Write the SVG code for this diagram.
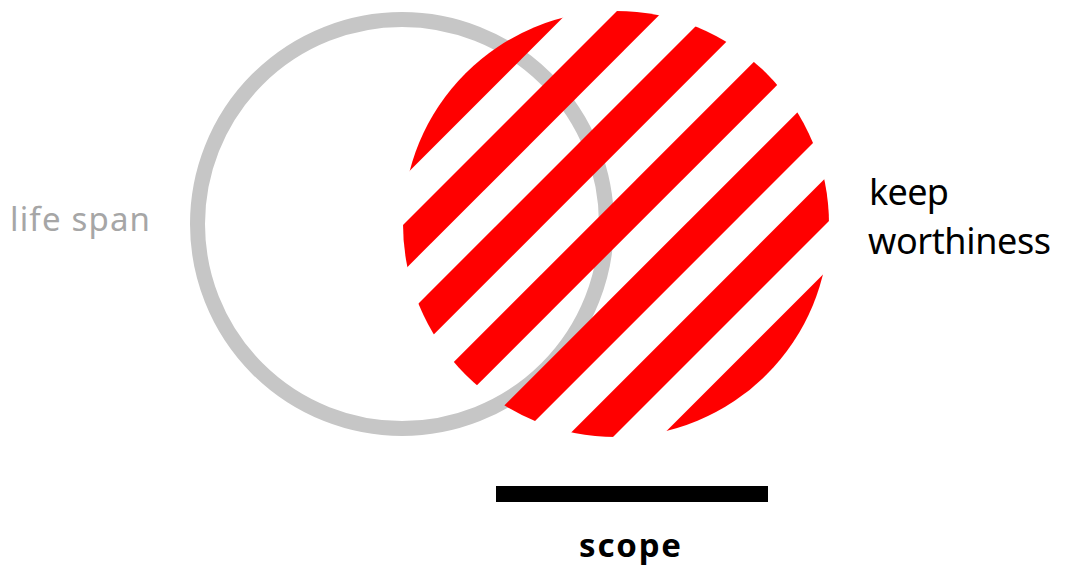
<svg xmlns="http://www.w3.org/2000/svg" width="1065" height="572" viewBox="0 0 1065 572">
  <style>
    .lbl { font-family: "Noto Sans", "Liberation Sans", sans-serif; }
    .stripe { stroke: #ff0000; stroke-width: 32.8; fill: none; }
  </style>
  <defs>
    <clipPath id="redClip">
      <circle cx="616" cy="224" r="213"/>
    </clipPath>
  </defs>
  <rect width="1065" height="572" fill="#ffffff"/>
  <g id="life-span-circle">
    <circle cx="402" cy="224" r="204.5" fill="none" stroke="#c6c6c6" stroke-width="15"/>
  </g>
  <g id="keep-worthiness-circle" clip-path="url(#redClip)">
    <line class="stripe" x1="557.3" y1="0" x2="-42.7" y2="600"/>
    <line class="stripe" x1="651.2" y1="0" x2="51.2" y2="600"/>
    <line class="stripe" x1="745.1" y1="0" x2="145.1" y2="600"/>
    <line class="stripe" x1="839" y1="0" x2="239" y2="600"/>
    <line class="stripe" x1="932.9" y1="0" x2="332.9" y2="600"/>
    <line class="stripe" x1="1026.8" y1="0" x2="426.8" y2="600"/>
    <line class="stripe" x1="1120.7" y1="0" x2="520.7" y2="600"/>
  </g>
  <g id="scope-bar">
    <rect x="496" y="486" width="272" height="16" fill="#000000"/>
  </g>
  <g id="labels">
    <text id="life-span" class="lbl" x="10" y="231" font-size="33" fill="#a6a6a6" textLength="140" lengthAdjust="spacing">life span</text>
    <text id="keep-worthiness" class="lbl" font-size="36" fill="#000000">
      <tspan x="869" y="205" textLength="80" lengthAdjust="spacing">keep</tspan>
      <tspan x="868" y="254" textLength="183" lengthAdjust="spacing">worthiness</tspan>
    </text>
    <text id="scope" class="lbl" x="579" y="557" font-size="33" font-weight="bold" fill="#000000" textLength="102" lengthAdjust="spacing">scope</text>
  </g>
</svg>
